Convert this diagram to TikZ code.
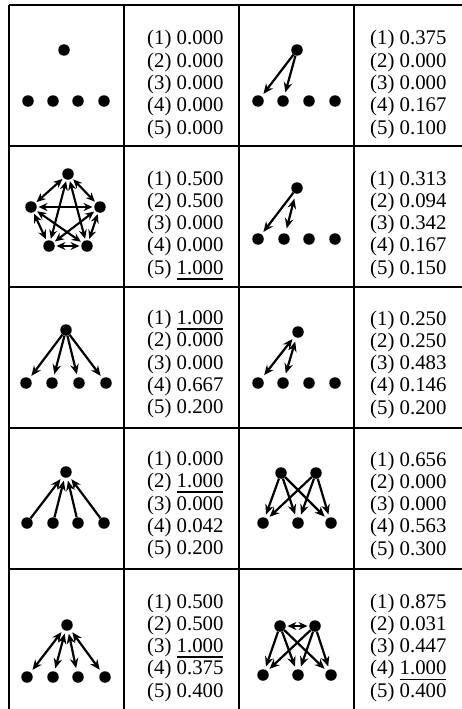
\documentclass[tikz,border=0pt]{standalone}
\usepackage{fontspec}
\setmainfont{Liberation Serif}
\usetikzlibrary{arrows.meta}
\newcommand\ulx[1]{\setbox0\hbox{#1}\rlap{\rule[-5.5pt]{\wd0}{1.9pt}}\box0}
\newcommand\vals[9]{%
  \node[val] (#1a) at (#2,#3+#4) {(1) #5};
  \node[val] (#1b) at (#2,#3+#4+22.3) {(2) #6};
  \node[val] (#1c) at (#2,#3+#4+44.6) {(3) #7};
  \node[val] (#1d) at (#2,#3+#4+66.9) {(4) #8};
  \node[val] (#1e) at (#2,#3+#4+89.2) {(5) #9};
}
\begin{document}
\begin{tikzpicture}[x=1pt,y=-1pt,
  dot/.style={circle,fill=black,inner sep=0pt,minimum size=11.5pt},
  tip/.tip={Stealth[length=10pt,width=8.5pt]},
  stip/.tip={Stealth[length=9pt,width=8pt]},
  arr/.style={line width=2.2pt,-tip,shorten >=3pt},
  darr/.style={line width=2.2pt,tip-tip,shorten >=3pt,shorten <=3pt},
  sdarr/.style={line width=2.1pt,stip-stip,shorten >=1.5pt,shorten <=1.5pt},
  gridline/.style={line width=2pt},
  val/.style={anchor=base west,inner sep=0pt,font=\fontsize{20.8}{22.5}\selectfont}]
\useasboundingbox (0,0) rectangle (462,709);
% grid
\draw[gridline] (9,5) -- (462,5);
\foreach \yy in {146,287,428,569} \draw[gridline] (9,\yy) -- (462,\yy);
\foreach \xx in {9,124,239,354} \draw[gridline] (\xx,5) -- (\xx,709);
% values
\vals{v11}{147}{5}{40}{0.000}{0.000}{0.000}{0.000}{0.000}
\vals{v12}{370}{5}{40}{0.375}{0.000}{0.000}{0.167}{0.100}
\vals{v21}{147}{146}{39}{0.500}{0.500}{0.000}{0.000}{\ulx{1.000}}
\vals{v22}{370}{146}{39}{0.313}{0.094}{0.342}{0.167}{0.150}
\vals{v31}{147}{287}{37.5}{\ulx{1.000}}{0.000}{0.000}{0.667}{0.200}
\vals{v32}{370}{287}{38}{0.250}{0.250}{0.483}{0.146}{0.200}
\vals{v41}{147}{428}{37.5}{0.000}{\ulx{1.000}}{0.000}{0.042}{0.200}
\vals{v42}{370}{428}{38}{0.656}{0.000}{0.000}{0.563}{0.300}
\vals{v51}{147}{569}{39}{0.500}{0.500}{\ulx{1.000}}{0.375}{0.400}
\vals{v52}{370}{569}{39}{0.875}{0.031}{0.447}{\ulx{1.000}}{0.400}
% row 1 left
\node[dot] (a1t) at (64,50) {};
\node[dot] (a1b1) at (28,101) {};
\node[dot] (a1b2) at (53,101) {};
\node[dot] (a1b3) at (78,101) {};
\node[dot] (a1b4) at (104,101) {};
% row 1 right
\node[dot] (b1t) at (297,50) {};
\node[dot] (b1b1) at (258,101) {};
\node[dot] (b1b2) at (283,101) {};
\node[dot] (b1b3) at (309,101) {};
\node[dot] (b1b4) at (335,101) {};
\draw[arr] (b1t) -- (b1b1);
\draw[arr] (b1t) -- (b1b2);
% row 2 left: pentagon
\node[dot] (pT) at (68,174) {};
\node[dot] (pL) at (31,207) {};
\node[dot] (pR) at (100,207) {};
\node[dot] (pBL) at (49,246) {};
\node[dot] (pBR) at (87,246) {};
\foreach \u/\v in {pT/pL,pT/pR,pL/pBL,pR/pBR,pBL/pBR,pT/pBL,pT/pBR,pL/pR,pL/pBR,pR/pBL}
  \draw[sdarr] (\u) -- (\v);
% row 2 right
\node[dot] (b2t) at (297,188) {};
\node[dot] (b2b1) at (258,239) {};
\node[dot] (b2b2) at (284,239) {};
\node[dot] (b2b3) at (309,239) {};
\node[dot] (b2b4) at (335,239) {};
\draw[arr] (b2t) -- (b2b1);
\draw[darr,shorten <=5pt,shorten >=5pt] (b2b2) -- (b2t);
% row 3 left
\node[dot] (a3t) at (66,330) {};
\node[dot] (a3b1) at (26,383) {};
\node[dot] (a3b2) at (52,383) {};
\node[dot] (a3b3) at (79,383) {};
\node[dot] (a3b4) at (106,383) {};
\foreach \v in {a3b1,a3b2,a3b3,a3b4} \draw[arr] (a3t) -- (\v);
% row 3 right
\node[dot] (b3t) at (298,332) {};
\node[dot] (b3b1) at (258,383) {};
\node[dot] (b3b2) at (283,383) {};
\node[dot] (b3b3) at (309,383) {};
\node[dot] (b3b4) at (335,383) {};
\draw[darr,shorten <=4pt] (b3b1) -- (b3t);
\draw[darr,shorten <=4pt,shorten >=4pt] (b3b2) -- (b3t);
% row 4 left
\node[dot] (a4t) at (66,472) {};
\node[dot] (a4b1) at (27,523) {};
\node[dot] (a4b2) at (53,523) {};
\node[dot] (a4b3) at (78,523) {};
\node[dot] (a4b4) at (104,523) {};
\foreach \v in {a4b1,a4b2,a4b3,a4b4} \draw[arr] (\v) -- (a4t);
% row 4 right
\node[dot] (b4t1) at (281,473) {};
\node[dot] (b4t2) at (316,473) {};
\node[dot] (b4b1) at (263,523) {};
\node[dot] (b4b2) at (298,523) {};
\node[dot] (b4b3) at (331,523) {};
\foreach \u in {b4t1,b4t2} \foreach \v in {b4b1,b4b2,b4b3} \draw[arr] (\u) -- (\v);
% row 5 left
\node[dot] (a5t) at (67,625) {};
\node[dot] (a5b1) at (27,677) {};
\node[dot] (a5b2) at (53,677) {};
\node[dot] (a5b3) at (78,677) {};
\node[dot] (a5b4) at (105,677) {};
\foreach \v in {a5b1,a5b2,a5b3,a5b4} \draw[darr] (a5t) -- (\v);
% row 5 right
\node[dot] (b5t1) at (280,626) {};
\node[dot] (b5t2) at (315,626) {};
\node[dot] (b5b1) at (263,675) {};
\node[dot] (b5b2) at (298,675) {};
\node[dot] (b5b3) at (331,675) {};
\foreach \u in {b5t1,b5t2} \foreach \v in {b5b1,b5b2,b5b3} \draw[arr] (\u) -- (\v);
\draw[sdarr] (b5t1) -- (b5t2);
\end{tikzpicture}
\end{document}
